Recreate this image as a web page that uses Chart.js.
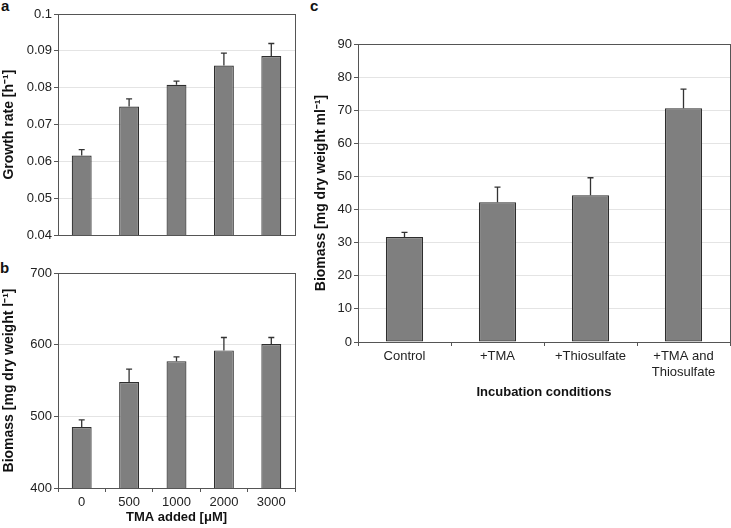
<!DOCTYPE html>
<html>
<head>
<meta charset="utf-8">
<script src="https://cdn.jsdelivr.net/npm/chart.js@4"></script>
<style>
  body { margin: 0; background: #fff; width: 731px; height: 528px; position: relative; overflow: hidden; font-family: "Liberation Sans", Arial, sans-serif; }
  canvas { position: absolute; }
  .lbl { position: absolute; font-weight: bold; font-size: 15px; color: #111; line-height: 15px; }
</style>
</head>
<body>
<div class="lbl" style="left:1px; top:-2px;">a</div>
<div class="lbl" style="left:0px; top:260px;">b</div>
<div class="lbl" style="left:310px; top:-2px;">c</div>
<canvas id="chartA" width="300" height="245" style="left:0; top:0;"></canvas>
<canvas id="chartB" width="300" height="273" style="left:0; top:255px;"></canvas>
<canvas id="chartC" width="419" height="402" style="left:312px; top:0;"></canvas>
<script>
// panel a + b: TMA concentration
var tmaLabels = ["0", "500", "1000", "2000", "3000"];
var growthRate = [0.0616, 0.0749, 0.0808, 0.0860, 0.0886];
var growthErrTop = [0.0632, 0.0770, 0.0818, 0.0894, 0.0920];
var growthTicks = [0.04, 0.05, 0.06, 0.07, 0.08, 0.09, 0.1];

var biomassTma = [485, 548, 577, 592, 601];
var biomassTmaErrTop = [495, 566, 583, 610, 610];
var biomassTmaTicks = [400, 500, 600, 700];

// panel c: incubation conditions
var incLabels = ["Control", "+TMA", "+Thiosulfate", ["+TMA and", "Thiosulfate"]];
var biomassInc = [31.7, 42.2, 44.3, 70.6];
var biomassIncErrTop = [33.1, 46.8, 49.6, 76.4];
var biomassIncTicks = [0, 10, 20, 30, 40, 50, 60, 70, 80, 90];

var FONT = "'Liberation Sans', Arial, sans-serif";
var AXIS = "#555";

// upward error bars with small caps
var errorBars = {
    id: 'errorBars',
    afterDatasetsDraw: function (chart, args, opts) {
        var meta = chart.getDatasetMeta(0);
        var ys = chart.scales.y;
        var ctx = chart.ctx;
        ctx.save();
        ctx.strokeStyle = "#333";
        ctx.lineWidth = 1.3;
        meta.data.forEach(function (bar, i) {
            var yTop = ys.getPixelForValue(opts.tops[i]);
            ctx.beginPath();
            ctx.moveTo(bar.x, bar.y);
            ctx.lineTo(bar.x, yTop);
            ctx.moveTo(bar.x - 3, yTop);
            ctx.lineTo(bar.x + 3, yTop);
            ctx.stroke();
        });
        ctx.restore();
    }
};

// frame around the plot area
var frame = {
    id: 'frame',
    afterDraw: function (chart) {
        var a = chart.chartArea;
        var ctx = chart.ctx;
        ctx.save();
        ctx.strokeStyle = AXIS;
        ctx.lineWidth = 1;
        ctx.strokeRect(Math.round(a.left) + 0.5, Math.round(a.top) + 0.5, Math.round(a.right - a.left), Math.round(a.bottom - a.top));
        ctx.restore();
    }
};

function makeChart(id, labels, values, errTops, yTicks, cfg) {
    return new Chart(document.getElementById(id), {
        type: 'bar',
        data: {
            labels: labels,
            datasets: [{
                data: values,
                backgroundColor: "#7f7f7f",
                borderColor: "#2e2e2e",
                borderWidth: 1.2,
                borderSkipped: false,
                categoryPercentage: 1,
                barPercentage: cfg.barPct
            }]
        },
        options: {
            responsive: false,
            animation: false,
            layout: { padding: cfg.padding },
            plugins: {
                legend: { display: false },
                tooltip: { enabled: false },
                errorBars: { tops: errTops }
            },
            scales: {
                x: {
                    grid: { drawOnChartArea: false, drawTicks: cfg.xTicks, tickLength: 4, color: AXIS, tickColor: AXIS },
                    border: { color: AXIS },
                    ticks: { display: cfg.xTicks, padding: 3, color: "#222", maxRotation: 0, autoSkip: false, font: { family: FONT, size: 13 } },
                    title: { display: !!cfg.xTitle, text: cfg.xTitle, color: "#111", padding: { top: 0, bottom: cfg.xTitlePad }, font: { family: FONT, size: 13, weight: 'bold' } },
                    afterFit: function (s) { s.height = cfg.xHeight; }
                },
                y: {
                    min: yTicks[0],
                    max: yTicks[yTicks.length - 1],
                    afterBuildTicks: function (s) { s.ticks = yTicks.map(function (v) { return { value: v }; }); },
                    grid: { color: "#e4e4e4", tickColor: AXIS, tickLength: 4 },
                    border: { color: AXIS },
                    ticks: { padding: 2, color: "#222", font: { family: FONT, size: 13 }, callback: function (v) { return String(v); } },
                    title: { display: true, text: cfg.yTitle, color: "#111", padding: { top: 1, bottom: 0 }, font: { family: FONT, size: 14, weight: 'bold' } },
                    afterFit: function (s) { s.width = cfg.yWidth; }
                }
            }
        },
        plugins: [errorBars, frame]
    });
}

makeChart('chartA', tmaLabels, growthRate, growthErrTop, growthTicks, {
    barPct: 0.42, padding: { top: 14, right: 5, left: 0, bottom: 0 },
    xTicks: false, xTitle: '', xTitlePad: 0, xHeight: 9, yWidth: 58,
    yTitle: 'Growth rate [h\u207B\u00B9]'
});

makeChart('chartB', tmaLabels, biomassTma, biomassTmaErrTop, biomassTmaTicks, {
    barPct: 0.42, padding: { top: 18, right: 5, left: 0, bottom: 0 },
    xTicks: true, xTitle: 'TMA added [\u03BCM]', xTitlePad: 3, xHeight: 40, yWidth: 58,
    yTitle: 'Biomass [mg dry weight l\u207B\u00B9]'
});

makeChart('chartC', incLabels, biomassInc, biomassIncErrTop, biomassIncTicks, {
    barPct: 0.4, padding: { top: 44, right: 1, left: 0, bottom: 0 },
    xTicks: true, xTitle: 'Incubation conditions', xTitlePad: 2, xHeight: 60, yWidth: 46,
    yTitle: 'Biomass [mg dry weight ml\u207B\u00B9]'
});
</script>
</body>
</html>
